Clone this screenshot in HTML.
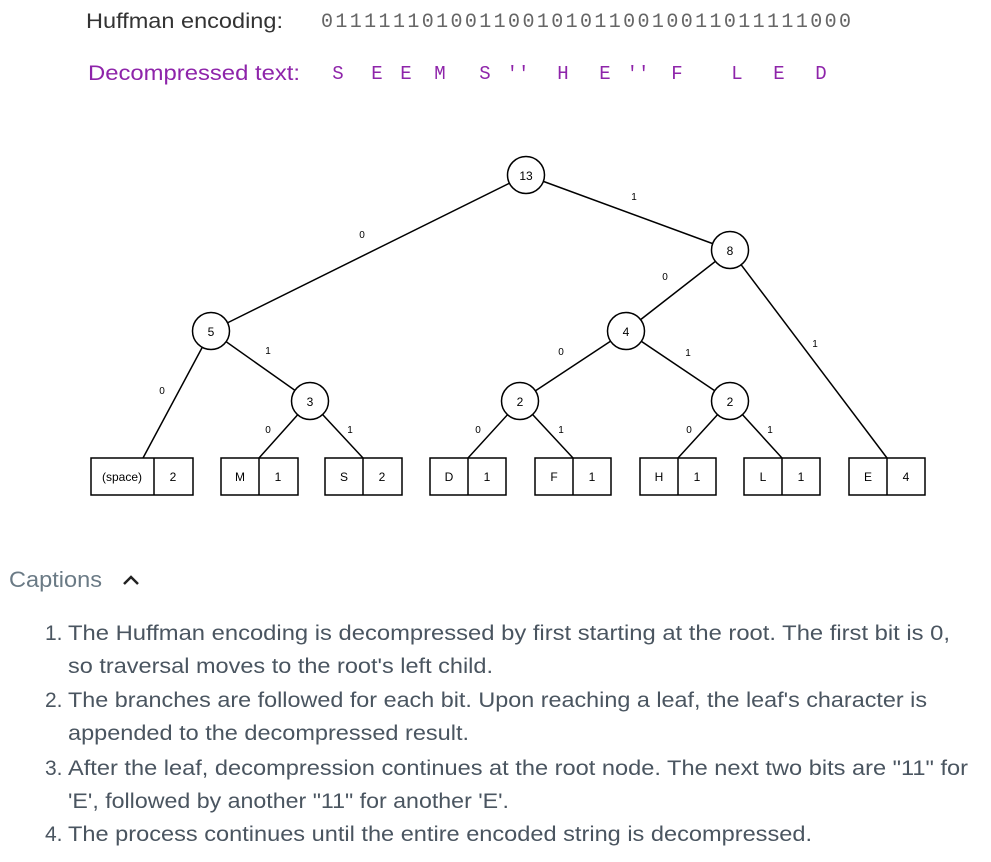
<!DOCTYPE html>
<html><head><meta charset="utf-8"><style>
body{margin:0;background:#fff;width:991px;height:862px;overflow:hidden}
svg{display:block}
</style></head><body>
<svg width="991" height="862" viewBox="0 0 991 862" xmlns="http://www.w3.org/2000/svg">
<g font-family="Liberation Sans, sans-serif">
<text x="86" y="28" font-size="21" fill="#333" textLength="197" lengthAdjust="spacingAndGlyphs">Huffman encoding:</text>
<text x="321" y="27" font-family="Liberation Mono, monospace" font-size="20" fill="#666" textLength="530" lengthAdjust="spacing">0111111010011001010110010011011111000</text>
<text x="88" y="80" font-size="21" fill="#8e24aa" textLength="212" lengthAdjust="spacingAndGlyphs">Decompressed text:</text>
<g font-family="Liberation Mono, monospace" font-size="19" fill="#8e24aa" text-anchor="middle">
<text x="338" y="79">S</text><text x="377" y="79">E</text><text x="406" y="79">E</text><text x="440" y="79">M</text>
<text x="485" y="79">S</text><text x="518" y="79">''</text><text x="563" y="79">H</text><text x="605" y="79">E</text>
<text x="638" y="79">''</text><text x="677" y="79">F</text><text x="737" y="79">L</text><text x="779" y="79">E</text><text x="821" y="79">D</text>
</g>
</g>
<g stroke="#000" stroke-width="1.5" fill="none">
<line x1="526" y1="175" x2="211" y2="331"/>
<line x1="526" y1="175" x2="730" y2="250"/>
<line x1="730" y1="250" x2="626" y2="331"/>
<line x1="730" y1="250" x2="887" y2="458"/>
<line x1="211" y1="331" x2="143" y2="458"/>
<line x1="211" y1="331" x2="310" y2="401"/>
<line x1="310" y1="401" x2="259" y2="458"/>
<line x1="310" y1="401" x2="363" y2="458"/>
<line x1="626" y1="331" x2="520" y2="401"/>
<line x1="626" y1="331" x2="730" y2="401"/>
<line x1="520" y1="401" x2="468" y2="458"/>
<line x1="520" y1="401" x2="573" y2="458"/>
<line x1="730" y1="401" x2="678" y2="458"/>
<line x1="730" y1="401" x2="782" y2="458"/>
</g>
<g stroke="#000" stroke-width="1.5" fill="#fff">
<circle cx="526" cy="175" r="18.5"/><circle cx="730" cy="250" r="18.5"/>
<circle cx="211" cy="331" r="18.5"/><circle cx="626" cy="331" r="18.5"/>
<circle cx="310" cy="401" r="18.5"/><circle cx="520" cy="401" r="18.5"/><circle cx="730" cy="401" r="18.5"/>
<rect x="91" y="458" width="102" height="37"/><line x1="154" y1="458" x2="154" y2="495"/>
<rect x="221" y="458" width="77" height="37"/><line x1="259" y1="458" x2="259" y2="495"/>
<rect x="325" y="458" width="77" height="37"/><line x1="363" y1="458" x2="363" y2="495"/>
<rect x="430" y="458" width="76" height="37"/><line x1="468" y1="458" x2="468" y2="495"/>
<rect x="535" y="458" width="76" height="37"/><line x1="573" y1="458" x2="573" y2="495"/>
<rect x="640" y="458" width="76" height="37"/><line x1="678" y1="458" x2="678" y2="495"/>
<rect x="744" y="458" width="76" height="37"/><line x1="782" y1="458" x2="782" y2="495"/>
<rect x="849" y="458" width="76" height="37"/><line x1="887" y1="458" x2="887" y2="495"/>
</g>
<g font-family="Liberation Sans, sans-serif" font-size="12" fill="#000" text-anchor="middle">
<text x="526" y="180">13</text><text x="730" y="255">8</text><text x="211" y="336">5</text><text x="626" y="336">4</text>
<text x="310" y="406">3</text><text x="520" y="406">2</text><text x="730" y="406">2</text>
<text x="122" y="481">(space)</text><text x="173" y="481">2</text>
<text x="240" y="481">M</text><text x="278" y="481">1</text>
<text x="344" y="481">S</text><text x="382" y="481">2</text>
<text x="449" y="481">D</text><text x="487" y="481">1</text>
<text x="554" y="481">F</text><text x="592" y="481">1</text>
<text x="659" y="481">H</text><text x="697" y="481">1</text>
<text x="763" y="481">L</text><text x="801" y="481">1</text>
<text x="868" y="481">E</text><text x="906" y="481">4</text>
</g>
<g font-family="Liberation Sans, sans-serif" font-size="10" fill="#000" text-anchor="middle">
<text x="362" y="238">0</text><text x="634" y="200">1</text>
<text x="665" y="280">0</text><text x="815" y="347">1</text>
<text x="162" y="394">0</text><text x="268" y="354">1</text>
<text x="268" y="433">0</text><text x="350" y="433">1</text>
<text x="561" y="355">0</text><text x="688" y="356">1</text>
<text x="478" y="433">0</text><text x="561" y="433">1</text>
<text x="689" y="433">0</text><text x="770" y="433">1</text>
</g>
<g font-family="Liberation Sans, sans-serif" fill="#4a5560">
<text x="9" y="587" font-size="22" fill="#6a7a85" textLength="93" lengthAdjust="spacingAndGlyphs">Captions</text>
<path d="M124 584 L131 577 L138 584" stroke="#222" stroke-width="2.5" fill="none"/>
<g font-size="21">
<text x="45" y="640">1.</text>
<text x="68" y="640" textLength="882" lengthAdjust="spacingAndGlyphs">The Huffman encoding is decompressed by first starting at the root. The first bit is 0,</text>
<text x="68" y="673" textLength="425" lengthAdjust="spacingAndGlyphs">so traversal moves to the root's left child.</text>
<text x="45" y="707">2.</text>
<text x="68" y="707" textLength="859" lengthAdjust="spacingAndGlyphs">The branches are followed for each bit. Upon reaching a leaf, the leaf's character is</text>
<text x="68" y="740" textLength="401" lengthAdjust="spacingAndGlyphs">appended to the decompressed result.</text>
<text x="45" y="775">3.</text>
<text x="68" y="775" textLength="900" lengthAdjust="spacingAndGlyphs">After the leaf, decompression continues at the root node. The next two bits are "11" for</text>
<text x="68" y="808" textLength="441" lengthAdjust="spacingAndGlyphs">'E', followed by another "11" for another 'E'.</text>
<text x="45" y="841">4.</text>
<text x="68" y="841" textLength="744" lengthAdjust="spacingAndGlyphs">The process continues until the entire encoded string is decompressed.</text>
</g>
</g>
</svg>
</body></html>
